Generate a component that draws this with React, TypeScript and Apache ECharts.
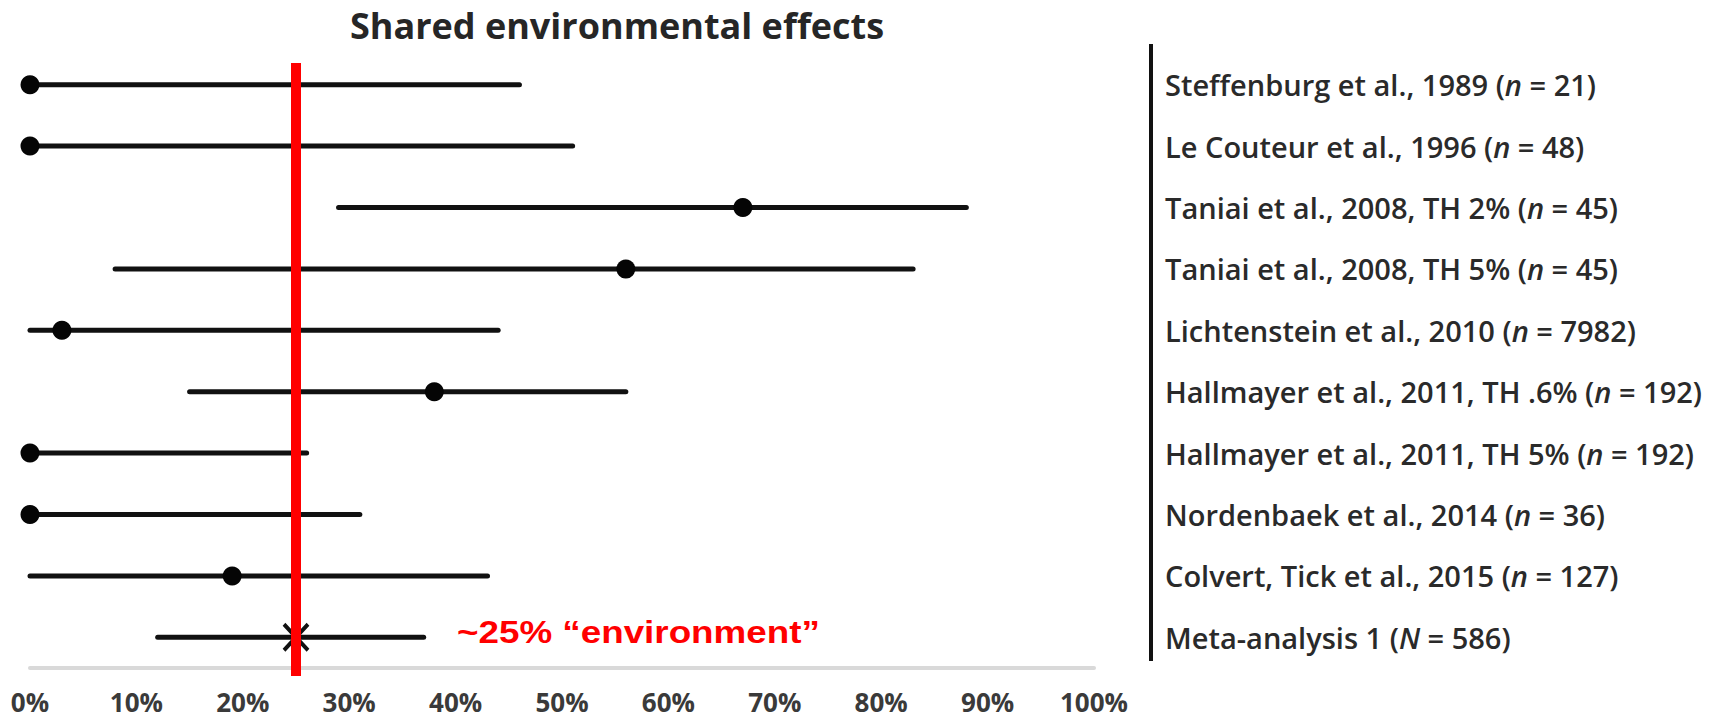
import React, { useEffect, useRef } from "react";
import * as echarts from "echarts";

const chartTitle = "Shared environmental effects";
const studies = [
  "Steffenburg et al., 1989",
  "Le Couteur et al., 1996",
  "Taniai et al., 2008, TH 2%",
  "Taniai et al., 2008, TH 5%",
  "Lichtenstein et al., 2010",
  "Hallmayer et al., 2011, TH .6%",
  "Hallmayer et al., 2011, TH 5%",
  "Nordenbaek et al., 2014",
  "Colvert, Tick et al., 2015",
  "Meta-analysis 1",
];
const sampleSymbols = ["n", "n", "n", "n", "n", "n", "n", "n", "n", "N"];
const sampleSizes = [21, 48, 45, 45, 7982, 192, 192, 36, 127, 586];
const estimates = [0, 0, 67, 56, 3, 38, 0, 0, 19, 25];
const lowerCI = [0, 0, 29, 8, 0, 15, 0, 0, 0, 12];
const upperCI = [46, 51, 88, 83, 44, 56, 26, 31, 43, 37];
const referenceValue = 25;
const annotationText = "~25% \u201Cenvironment\u201D";

export default function App() {
  const ref = useRef<HTMLDivElement>(null);
  useEffect(() => {
    if (!ref.current) return;
    const chart = echarts.init(ref.current, null, { renderer: "svg" });
    const last = studies.length - 1;
    const option: any = {
      animation: false,
      backgroundColor: "#ffffff",
      title: {
        text: chartTitle,
        left: 612,
        textAlign: "center",
        top: 2,
        textStyle: { fontFamily: "Open Sans", fontWeight: "bold", fontSize: 36, color: "#262626" },
      },
      grid: { left: 30, right: 633, top: 54, bottom: 52, containLabel: false },
      xAxis: {
        type: "value",
        min: 0,
        max: 100,
        interval: 10,
        axisLine: { show: true, lineStyle: { color: "#d9d9d9", width: 4 } },
        axisTick: { show: false },
        splitLine: { show: false },
        axisLabel: {
          formatter: "{value}%",
          margin: 21,
          fontFamily: "Open Sans",
          fontWeight: "bold",
          fontSize: 26,
          color: "#3a3a3a",
        },
      },
      yAxis: {
        type: "category",
        data: studies,
        inverse: true,
        position: "right",
        offset: 57,
        axisLine: { show: false },
        axisTick: { show: false },
        splitLine: { show: false },
        axisLabel: {
          margin: 14,
          align: "left",
          formatter: (name: string) => {
            const i = studies.indexOf(name);
            return `{t|${name} (}{i|${sampleSymbols[i]}}{t| = ${sampleSizes[i]})}`;
          },
          rich: {
            t: { fontFamily: "Open Sans", fontWeight: 600, fontSize: 29, color: "#2a2a2a" },
            i: { fontFamily: "Open Sans", fontWeight: 600, fontSize: 29, fontStyle: "italic", color: "#2a2a2a" },
          },
        },
      },
      series: [
        {
          type: "custom",
          name: "divider",
          z: 1,
          data: [[0, 0]],
          renderItem: (params: any) => {
            const cs = params.coordSys;
            const x = cs.x + cs.width + 57;
            return {
              type: "line",
              shape: { x1: x, y1: cs.y - 10, x2: x, y2: cs.y + cs.height - 7 },
              style: { stroke: "#111111", lineWidth: 4 },
            };
          },
        },
        {
          type: "custom",
          name: "ci",
          z: 2,
          data: studies.map((_, i) => [lowerCI[i], upperCI[i], i]),
          encode: { x: [0, 1], y: 2 },
          renderItem: (params: any, api: any) => {
            const lo = api.coord([api.value(0), api.value(2)]);
            const hi = api.coord([api.value(1), api.value(2)]);
            return {
              type: "line",
              shape: { x1: lo[0], y1: lo[1], x2: hi[0], y2: hi[1] },
              style: { stroke: "#111111", lineWidth: 5, lineCap: "round" },
            };
          },
        },
        {
          type: "scatter",
          name: "estimate",
          z: 3,
          data: studies.map((_, i) =>
            i === last
              ? {
                  value: [estimates[i], i],
                  symbol: "path://M0,0L10,12M10,0L0,12",
                  symbolSize: [24, 26],
                  itemStyle: { color: "rgba(0,0,0,0)", borderColor: "#111111", borderWidth: 4, opacity: 1 },
                }
              : {
                  value: [estimates[i], i],
                  symbol: "circle",
                  symbolSize: 19,
                  itemStyle: { color: "#050505", opacity: 1 },
                }
          ),
        },
        {
          type: "custom",
          name: "reference",
          z: 5,
          data: [[referenceValue, 0]],
          renderItem: (params: any, api: any) => {
            const p = api.coord([api.value(0), 0]);
            const cs = params.coordSys;
            return {
              type: "line",
              shape: { x1: p[0], y1: cs.y + 9, x2: p[0], y2: cs.y + cs.height + 8 },
              style: { stroke: "#ff0000", lineWidth: 10 },
            };
          },
        },
      ],
      graphic: [
        {
          type: "text",
          left: 457,
          top: 616,
          scaleX: 1.15,
          style: {
            text: annotationText,
            fontFamily: "Liberation Sans, Arial, sans-serif",
            fontWeight: "bold",
            fontSize: 32,
            fill: "#ff0000",
          },
        },
      ],
    };
    chart.setOption(option);
    return () => chart.dispose();
  }, []);
  return (
    <div
      ref={ref}
      style={{ position: "fixed", left: 0, top: 0, width: 1727, height: 720, background: "#fff" }}
    />
  );
}
